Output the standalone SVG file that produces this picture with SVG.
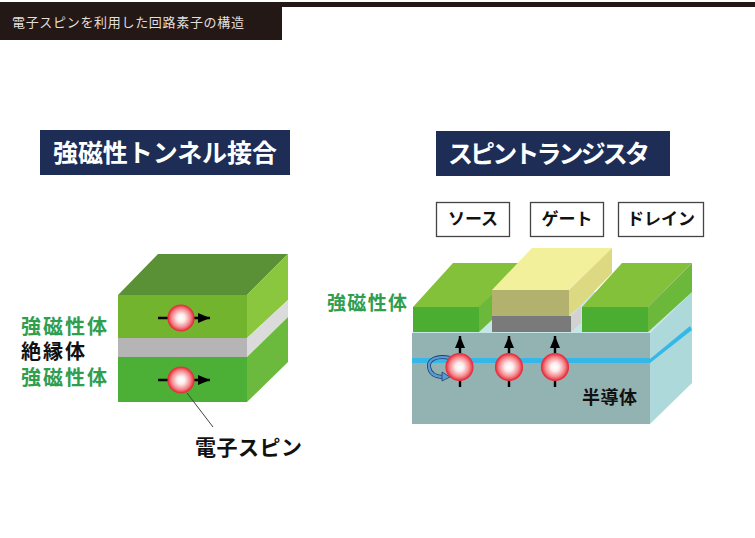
<svg xmlns="http://www.w3.org/2000/svg" width="755" height="538" viewBox="0 0 755 538">
<style>
text{font-family:"Noto Sans CJK JP","Noto Sans",sans-serif;font-weight:700}
.title{fill:#fff;font-size:25px}
.g{fill:#2f9e4f;font-size:20px}
.k{fill:#111;font-size:20px}
.tag{fill:#111;font-size:17px;text-anchor:middle}
.box{fill:#fff;stroke:#444;stroke-width:1.3}
.e{fill:url(#ball);stroke:#e5323f;stroke-width:1.2}
.s{stroke:#000;stroke-width:2.4;fill:none}
</style>
<defs>
<radialGradient id="ball" cx="50%" cy="50%" r="50%">
<stop offset="0" stop-color="#fff"/><stop offset=".3" stop-color="#fdeeee"/><stop offset=".72" stop-color="#f48a8f"/><stop offset="1" stop-color="#e62e3c"/>
</radialGradient>
<marker id="ah" markerUnits="userSpaceOnUse" markerWidth="13" markerHeight="11" refX="12" refY="5.500" orient="auto">
<path d="M0 0.500L12 5.500L0 10.500Z" fill="#000"/>
</marker>
</defs>
<rect id="bg" width="755" height="538" fill="#fff"/>
<g id="header">
<rect x="0" y="2" width="755" height="5" fill="#231815"/>
<rect x="0" y="7" width="282" height="33" fill="#231815"/>
<text x="12" y="27" font-size="13" textLength="232" lengthAdjust="spacing" style="fill:#e2dfdc;font-weight:400">電子スピンを利用した回路素子の構造</text>
</g>
<g id="title-left">
<rect x="40" y="130" width="250" height="45" fill="#1e2d55"/>
<text class="title" x="53" y="162" textLength="224" lengthAdjust="spacing">強磁性トンネル接合</text>
</g>
<g id="title-right">
<rect x="436" y="131" width="234" height="45" fill="#1e2d55"/>
<text class="title" x="448" y="163" textLength="202" lengthAdjust="spacing">スピントランジスタ</text>
</g>
<g id="mtj">
<polygon points="118,295 158,254 288,254 247,295" fill="#5a9137"/>
<rect x="118" y="295" width="129" height="43" fill="#72b42d"/>
<polygon points="247,295 288,254 288,300 247,338" fill="#8bc63f"/>
<rect x="118" y="338" width="129" height="19" fill="#b5b5b5"/>
<polygon points="247,338 288,300 288,317 247,357" fill="#dbdbdb"/>
<rect x="118" y="357" width="129" height="45" fill="#4bb035"/>
<polygon points="247,357 288,317 288,362 247,402" fill="#6bb93d"/>
</g>
<g id="mtj-labels">
<text class="g" x="21" y="334" textLength="86" lengthAdjust="spacing">強磁性体</text>
<text class="k" x="21" y="359" textLength="64" lengthAdjust="spacing">絶縁体</text>
<text class="g" x="21" y="385" textLength="86" lengthAdjust="spacing">強磁性体</text>
<text x="195" y="455" font-size="21" textLength="107" lengthAdjust="spacing" fill="#111">電子スピン</text>
</g>
<g id="transistor">
<polygon points="412,333 453,292 692,292 650,333" fill="#c6e7e7"/>
<rect x="412" y="333" width="238" height="91" fill="#93b3b3"/>
<polygon points="650,333 692,292 692,383 650,424" fill="#aed9da"/>
<polygon points="650,359 690,326 692,330 650,363" fill="#35b8e8"/>
<rect x="412" y="358" width="238" height="5" fill="#35b8e8"/>
</g>
<g id="source">
<polygon points="413,307 453,263 530,263 480,307" fill="#84c13a"/>
<rect x="413" y="307" width="66" height="25" fill="#4bae33"/>
<polygon points="479,307 495,292 495,317 479,332" fill="#6cb83a"/>
</g>
<g id="drain">
<polygon points="582,307 622,263 692,263 648,307" fill="#84c13a"/>
<rect x="582" y="307" width="66" height="25" fill="#4bae33"/>
<polygon points="648,307 692,263 692,292 648,332" fill="#6cb83a"/>
</g>
<g id="gate">
<polygon points="571,316 581,306 581,323 571,332" fill="#d2d2d2"/>
<rect x="492" y="316" width="79" height="16" fill="#7a7a7a"/>
<polygon points="492,290 532,248 612,248 569,290" fill="#f3f09b"/>
<rect x="492" y="290" width="77" height="26" fill="#b2b16e"/>
<polygon points="569,290 612,248 612,273 581,305 569,316" fill="#dcd982"/>
</g>
<g id="tags">
<rect class="box" x="436.500" y="202.500" width="73" height="34"/>
<text class="tag" x="473" y="225">ソース</text>
<rect class="box" x="530.500" y="202.500" width="73" height="34"/>
<text class="tag" x="567" y="225">ゲート</text>
<rect class="box" x="618.500" y="202.500" width="85" height="34"/>
<text class="tag" x="661" y="225">ドレイン</text>
</g>
<g id="transistor-labels">
<text x="327" y="310" font-size="19" textLength="80" lengthAdjust="spacing" fill="#2f9e4f">強磁性体</text>
<text x="582" y="404" font-size="18" textLength="55" lengthAdjust="spacing" fill="#111">半導体</text>
</g>
<g id="connectors">
<line x1="158" y1="318" x2="210" y2="318" class="s" marker-end="url(#ah)"/>
<line x1="158" y1="380" x2="210" y2="380" class="s" marker-end="url(#ah)"/>
<line x1="187" y1="393" x2="213" y2="427" stroke="#444" stroke-width="1"/>
<line x1="460" y1="387" x2="460" y2="336" class="s" marker-end="url(#ah)"/>
<line x1="509" y1="387" x2="509" y2="336" class="s" marker-end="url(#ah)"/>
<line x1="555" y1="387" x2="555" y2="336" class="s" marker-end="url(#ah)"/>
<path d="M450 358C436 355 428 360 429 367C430 374 436 377 444 377" fill="none" stroke="#1f3f66" stroke-width="4"/>
<path d="M450 358C436 355 428 360 429 367C430 374 436 377 444 377" fill="none" stroke="#5b9bd5" stroke-width="2.400"/>
<path d="M442 372L450 377L442 381Z" fill="#5b9bd5" stroke="#1f3f66" stroke-width=".8"/>
</g>
<g id="electrons">
<circle class="e" cx="181" cy="318" r="13"/>
<circle class="e" cx="181" cy="380" r="13"/>
<circle class="e" cx="459.500" cy="367" r="13.500"/>
<circle class="e" cx="509" cy="367" r="13.500"/>
<circle class="e" cx="555" cy="367" r="13.500"/>
</g>
</svg>
